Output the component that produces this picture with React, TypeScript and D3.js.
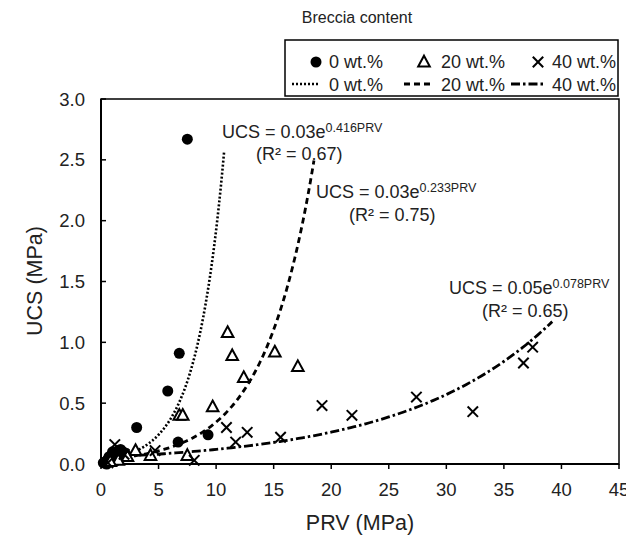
import React from 'react';
import * as d3 from 'd3';

// 0 wt.% breccia (filled circles)
const prv0 = [7.5, 6.8, 5.8, 3.1, 6.7, 9.3, 0.2, 0.4, 0.5, 0.6, 0.8, 0.9, 1.0, 1.1, 1.3, 1.5, 1.6, 1.8, 2.0, 1.2, 0.7, 1.4, 2.1, 1.7, 1.9];
const ucs0 = [2.67, 0.91, 0.60, 0.30, 0.18, 0.24, 0.01, 0.02, 0.0, 0.04, 0.03, 0.07, 0.10, 0.05, 0.09, 0.11, 0.07, 0.08, 0.06, 0.02, 0.06, 0.04, 0.09, 0.12, 0.10];

// 20 wt.% breccia (open triangles)
const prv20 = [11.0, 11.4, 15.1, 12.4, 9.7, 6.8, 7.1, 7.5, 4.3, 3.0, 2.3, 17.1, 1.5, 0.8];
const ucs20 = [1.08, 0.89, 0.92, 0.71, 0.47, 0.40, 0.40, 0.07, 0.07, 0.11, 0.06, 0.80, 0.03, 0.02];

// 40 wt.% breccia (crosses)
const prv40 = [1.2, 4.7, 8.1, 10.9, 12.7, 11.7, 15.6, 19.2, 21.8, 27.4, 32.3, 36.7, 37.5, 2.0, 0.6];
const ucs40 = [0.16, 0.11, 0.03, 0.30, 0.26, 0.18, 0.22, 0.48, 0.40, 0.55, 0.43, 0.83, 0.96, 0.08, 0.01];

// Exponential trendlines UCS = a * exp(b * PRV)
const trendA = [0.03, 0.0335, 0.055];
const trendB = [0.416, 0.233, 0.078];
const trendStart = [0.3, 0.3, 0.3];
const trendEnd = [10.7, 18.5, 39.2];

const seriesNames = ['0 wt.%', '20 wt.%', '40 wt.%'];
const eqCoef = ['0.03', '0.03', '0.05'];
const eqExp = ['0.416PRV', '0.233PRV', '0.078PRV'];
const r2Values = ['0.67', '0.75', '0.65'];

const xTicks = [0, 5, 10, 15, 20, 25, 30, 35, 40, 45];
const yTicks = [0, 0.5, 1.0, 1.5, 2.0, 2.5, 3.0];

const FONT = '"Liberation Sans", Arial, Helvetica, sans-serif';
const dashes = ['2 2', '6 4', '9 3 2.5 3'];
const dashWidths = [2.6, 2.8, 2.8];

function Circle({ cx, cy }: { cx: number; cy: number }) {
  return <circle cx={cx} cy={cy} r={5.5} fill="#000" />;
}
function Tri({ cx, cy }: { cx: number; cy: number }) {
  return (
    <path
      d={`M${cx},${cy - 6.3} L${cx + 5.8},${cy + 4.4} L${cx - 5.8},${cy + 4.4} Z`}
      fill="#fff"
      stroke="#000"
      strokeWidth={2}
      strokeLinejoin="miter"
    />
  );
}
function Cross({ cx, cy }: { cx: number; cy: number }) {
  const s = 5.2;
  return (
    <g stroke="#000" strokeWidth={2}>
      <line x1={cx - s} y1={cy - s} x2={cx + s} y2={cy + s} />
      <line x1={cx - s} y1={cy + s} x2={cx + s} y2={cy - s} />
    </g>
  );
}

export default function App() {
  const W = 626;
  const H = 541;
  const x = d3.scaleLinear().domain([0, 45]).range([101, 619]);
  const y = d3.scaleLinear().domain([0, 3]).range([464, 99]);
  const line = d3
    .line<[number, number]>()
    .x((d) => x(d[0]))
    .y((d) => y(d[1]));

  const curvePath = (i: number) => {
    const pts: [number, number][] = d3.range(0, 121).map((k) => {
      const p = trendStart[i] + ((trendEnd[i] - trendStart[i]) * k) / 120;
      return [p, trendA[i] * Math.exp(trendB[i] * p)];
    });
    return line(pts) || '';
  };

  const eqPos = [
    { x: 222, y: 138, rx: 256, ry: 160 },
    { x: 316, y: 198, rx: 349, ry: 221 },
    { x: 449, y: 294, rx: 482, ry: 317 },
  ];

  const legendTextEnd = [383, 505, 616];
  const legendMarkX = [316, 424, 538];
  const legendLine = [
    [292, 320],
    [404, 434],
    [511, 545],
  ];

  return (
    <svg
      width={W}
      height={H}
      viewBox={`0 0 ${W} ${H}`}
      style={{ position: 'absolute', left: 0, top: 0, background: '#fff' }}
      fontFamily={FONT}
    >
      <rect x={0} y={0} width={W} height={H} fill="#fff" />

      {/* plot frame */}
      <rect x={101} y={99} width={518} height={365} fill="none" stroke="#000" strokeWidth={1.5} />
      <line x1={101} y1={99} x2={101} y2={464} stroke="#000" strokeWidth={2} />
      <line x1={101} y1={464} x2={619} y2={464} stroke="#000" strokeWidth={2} />

      {/* x ticks */}
      {xTicks.map((t) => (
        <g key={`xt${t}`}>
          <line x1={x(t)} y1={464} x2={x(t)} y2={469} stroke="#000" strokeWidth={1.5} />
          <text x={x(t)} y={496} textAnchor="middle" fontSize={18.5} fill="#222">
            {t}
          </text>
        </g>
      ))}
      {/* y ticks */}
      {yTicks.map((t) => (
        <g key={`yt${t}`}>
          <line x1={101} y1={y(t)} x2={106} y2={y(t)} stroke="#000" strokeWidth={1.5} />
          <text x={85} y={y(t) + 6.5} textAnchor="end" fontSize={18.5} fill="#222">
            {t.toFixed(1)}
          </text>
        </g>
      ))}

      {/* axis titles */}
      <text x={360} y={530} textAnchor="middle" fontSize={21.5} fill="#222">
        PRV (MPa)
      </text>
      <text
        transform={`translate(42,281) rotate(-90)`}
        textAnchor="middle"
        fontSize={21.5}
        fill="#222"
      >
        UCS (MPa)
      </text>

      {/* trendlines */}
      {[0, 1, 2].map((i) => (
        <path
          key={`tr${i}`}
          d={curvePath(i)}
          fill="none"
          stroke="#000"
          strokeWidth={dashWidths[i]}
          strokeDasharray={dashes[i]}
        />
      ))}

      {/* points */}
      {prv0.map((p, i) => (
        <Circle key={`c${i}`} cx={x(p)} cy={y(ucs0[i])} />
      ))}
      {prv20.map((p, i) => (
        <Tri key={`t${i}`} cx={x(p)} cy={y(ucs20[i])} />
      ))}
      {prv40.map((p, i) => (
        <Cross key={`x${i}`} cx={x(p)} cy={y(ucs40[i])} />
      ))}

      {/* equations */}
      {eqPos.map((e, i) => (
        <g key={`eq${i}`} fill="#222">
          <text x={e.x} y={e.y} fontSize={18}>
            {`UCS = ${eqCoef[i]}e`}
            <tspan fontSize={12.5} dy={-6}>
              {eqExp[i]}
            </tspan>
          </text>
          <text x={e.rx} y={e.ry} fontSize={18}>
            {`(R² = ${r2Values[i]})`}
          </text>
        </g>
      ))}

      {/* legend */}
      <text x={357} y={23} textAnchor="middle" fontSize={16} fill="#222">
        Breccia content
      </text>
      <rect x={285} y={40} width={333} height={56} fill="#fff" stroke="#000" strokeWidth={1.5} />
      {seriesNames.map((n, i) => (
        <g key={`lg${i}`} fill="#222">
          <text x={legendTextEnd[i]} y={68} textAnchor="end" fontSize={18}>
            {n}
          </text>
          <text x={legendTextEnd[i]} y={90.5} textAnchor="end" fontSize={18}>
            {n}
          </text>
          <line
            x1={legendLine[i][0]}
            y1={84}
            x2={legendLine[i][1]}
            y2={84}
            stroke="#000"
            strokeWidth={dashWidths[i]}
            strokeDasharray={dashes[i]}
          />
        </g>
      ))}
      <Circle cx={legendMarkX[0]} cy={62} />
      <Tri cx={legendMarkX[1]} cy={62} />
      <Cross cx={legendMarkX[2]} cy={62} />
    </svg>
  );
}
